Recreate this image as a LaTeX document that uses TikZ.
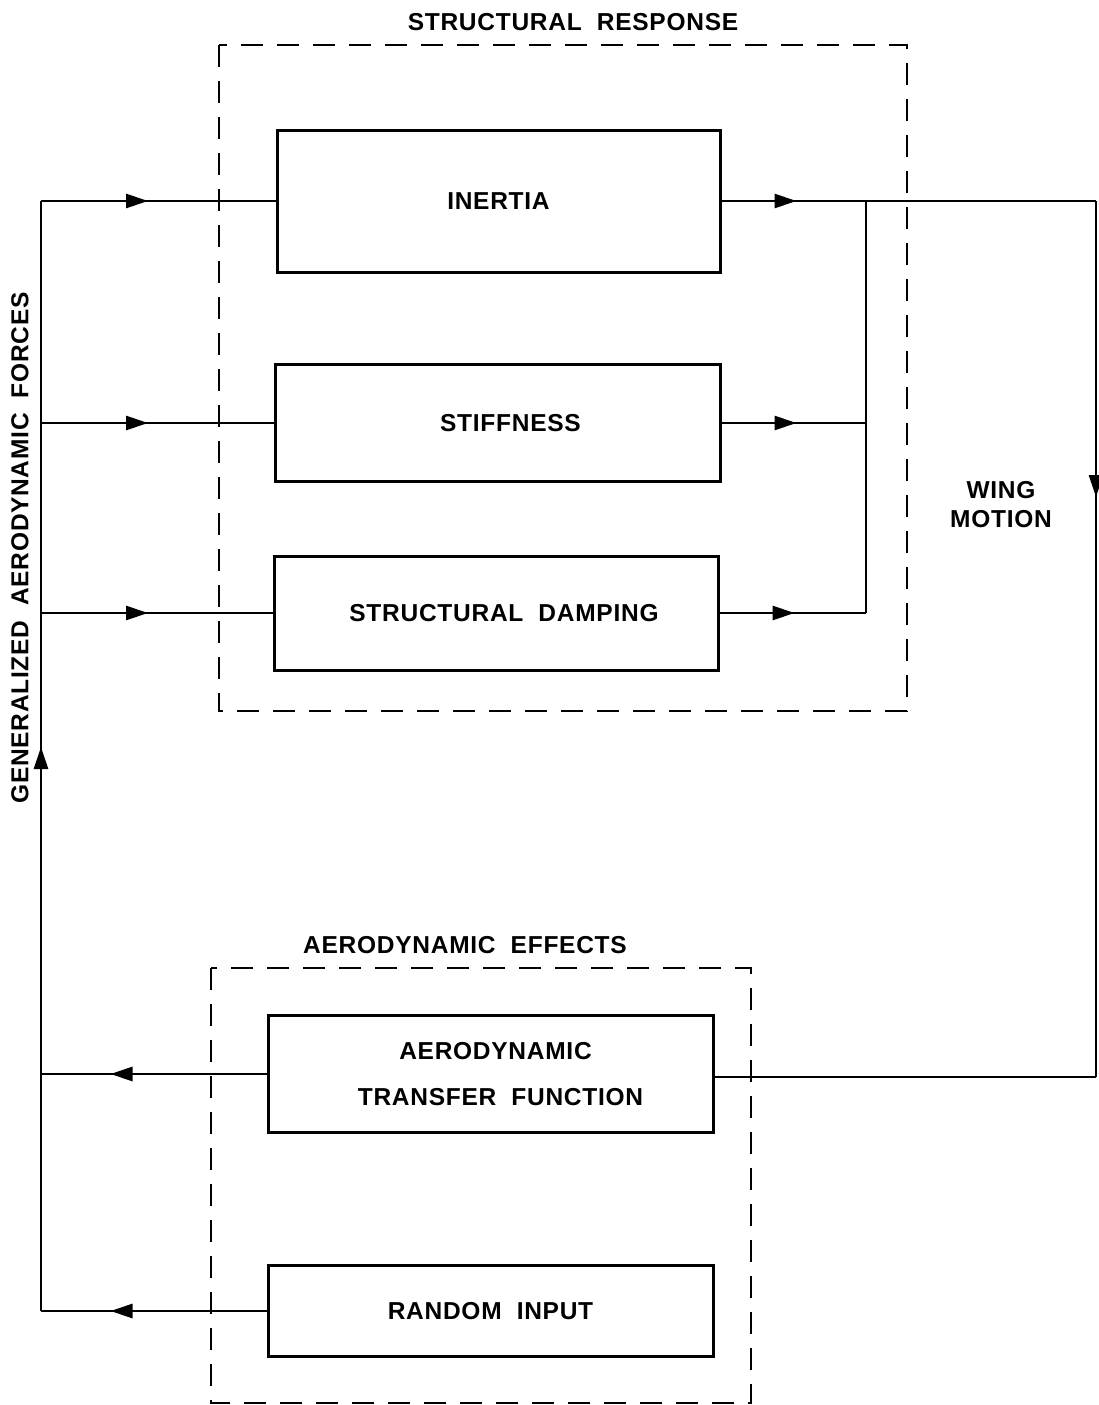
\documentclass[tikz,border=0pt]{standalone}
\usepackage{fontspec}
\setmainfont{Liberation Sans}[LetterSpace=3]
\usetikzlibrary{arrows.meta, decorations.markings, positioning, calc}
\newcommand{\blocktext}{\fontsize{24.5}{29}\selectfont\bfseries}

\tikzset{
  blockbox/.style={draw, line width=3pt, minimum width=444pt, inner sep=0pt, align=center, font=\blocktext},
  groupbox/.style={draw, line width=2.6pt, dash pattern=on 22pt off 14pt},
  flowline/.style={line width=2.8pt},
  midarrow/.style={postaction={decorate, decoration={markings,
      mark=at position #1 with {\arrow{Triangle[length=22pt,width=14pt]}}}}},
  caption/.style={font=\blocktext, align=center, inner sep=0pt},
}

\begin{document}
\begin{tikzpicture}[x=1pt, y=-1pt]
    % Page
    \useasboundingbox (0,0) rectangle (1098,1405);

    % Groups
    \draw[groupbox] (219,45) rectangle (907,711);
    \node[caption] (structtitle) at (573,22) {STRUCTURAL\ \ RESPONSE};
    \draw[groupbox] (211,968) rectangle (751,1403);
    \node[caption] (aerotitle) at (465,945) {AERODYNAMIC\ \ EFFECTS};

    % Blocks
    \node[blockbox, minimum width=443pt, minimum height=142pt] (inertia) at (498.5,201) {INERTIA};
    \node[blockbox, minimum width=445pt, minimum height=117pt] (stiffness) at (497.5,423) {\hspace*{26pt}STIFFNESS};
    \node[blockbox, minimum width=444pt, minimum height=114pt] (damping) at (496,613) {\hspace*{16pt}STRUCTURAL\ \ DAMPING};
    \node[blockbox, minimum width=445pt, minimum height=117pt] (aerotf) at (490.5,1074) {\hspace*{10pt}AERODYNAMIC\\[17pt]\hspace*{20pt}TRANSFER\ \ FUNCTION};
    \node[blockbox, minimum width=445pt, minimum height=91pt] (randin) at (490.5,1311) {RANDOM\ \ INPUT};

    % Labels
    \node[caption, rotate=90] (forces) at (20,548) {GENERALIZED\ \ AERODYNAMIC\ \ FORCES};
    \node[caption] (wing) at (1001,505) {WING\\[0pt]MOTION};

    % Junctions
    \coordinate (lefttop) at (41,201);
    \coordinate (leftbot) at (41,1311);
    \coordinate (bustop) at (866,201);
    \coordinate (busbot) at (866,613);
    \coordinate (righttop) at (1096,201);
    \coordinate (rightbot) at (1096,1077);

    % Forces into the structure
    \draw[flowline, midarrow=564pt] (leftbot) -- (lefttop);
    \draw[flowline, midarrow=107pt] (lefttop) -- (inertia.west);
    \draw[flowline, midarrow=107pt] (lefttop |- stiffness.west) -- (stiffness.west);
    \draw[flowline, midarrow=107pt] (lefttop |- damping.west) -- (damping.west);

    % Structural outputs
    \draw[flowline, midarrow=75pt] (inertia.east) -- (righttop);
    \draw[flowline, midarrow=75pt] (stiffness.east) -- (stiffness.east -| bustop);
    \draw[flowline, midarrow=75pt] (damping.east) -- (busbot);
    \draw[flowline] (bustop) -- (busbot);

    % Wing motion feedback
    \draw[flowline, midarrow=296pt] (righttop) -- (rightbot);
    \draw[flowline] (rightbot) -- (rightbot -| aerotf.east);

    % Aerodynamic forces back
    \draw[flowline, midarrow=156pt] (aerotf.west) -- (aerotf.west -| leftbot);
    \draw[flowline, midarrow=156pt] (randin.west) -- (leftbot);

\end{tikzpicture}
\end{document}
